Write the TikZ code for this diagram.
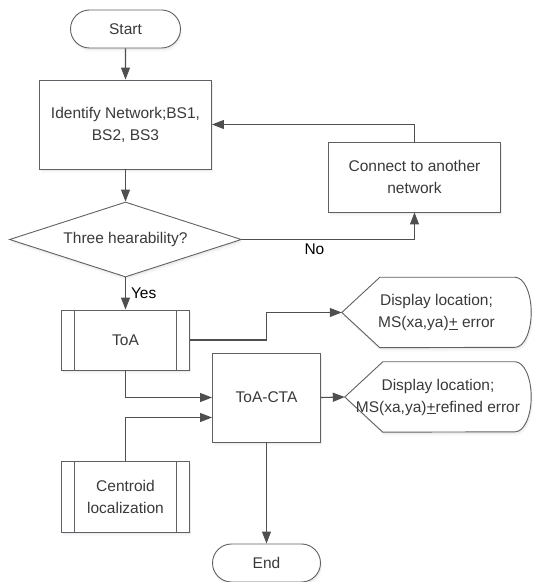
\documentclass[tikz,border=0pt]{standalone}
\usepackage{fontspec}
\setmainfont{Liberation Sans}
\usetikzlibrary{arrows.meta, shapes.geometric, shapes.misc, shadows, backgrounds}

\definecolor{ln}{HTML}{4F4F4F}
\definecolor{bd}{HTML}{5E6166}
\definecolor{txt}{HTML}{3A3A3A}

\begin{document}
\begin{tikzpicture}[x=1pt, y=1pt,
                every node/.style={font=\fontsize{15.5}{22}\selectfont, text=txt, align=center},
                soft shadow/.style={drop shadow={shadow xshift=1pt, shadow yshift=-2pt, opacity=.10},
                                    drop shadow={shadow xshift=1.5pt, shadow yshift=-4pt, opacity=.05}},
                box/.style={draw=bd, line width=0.9pt, fill=white, soft shadow},
                terminal/.style={box, rounded rectangle, minimum width=110pt, minimum height=38pt, inner sep=0pt},
                process/.style={box, rectangle, inner sep=0pt},
                decision/.style={box, diamond, aspect=3, minimum width=232pt, minimum height=75pt, inner sep=0pt},
                predef/.style={process, minimum width=128pt,
                        path picture={\draw[bd, line width=0.9pt]
                                ([xshift=13pt]path picture bounding box.north west) -- ([xshift=13pt]path picture bounding box.south west)
                                ([xshift=-13pt]path picture bounding box.north east) -- ([xshift=-13pt]path picture bounding box.south east);}},
                display/.style={inner sep=0pt, minimum height=70pt},
                lbl/.style={text=black},
                arr/.style={draw=ln, line width=1.1pt, -{Triangle[length=12pt, width=9pt]}}]
                \useasboundingbox (0,0) rectangle (536,582);

                \node[terminal] (start) at (125.5,553) {Start};
                \node[process, minimum width=172pt, minimum height=89pt] (ident) at (125.5,457.5) {Identify Network;BS1,\\BS2, BS3};
                \node[process, minimum width=172pt, minimum height=70pt] (conn) at (414.5,405) {Connect to another\\network};
                \node[decision] (dec) at (125.5,342.5) {Three hearability?};
                \node[predef, minimum height=60pt] (toa) at (125.5,242) {ToA};
                \node[display, minimum width=189pt] (disp1) at (436.5,269.5) {Display location;\\MS(xa,ya)\underline{+} error};
                \node[process, minimum width=108pt, minimum height=89pt] (cta) at (266.5,184.5) {ToA-CTA};
                \node[display, minimum width=186pt] (disp2) at (438,185) {Display location;\\MS(xa,ya)\underline{+}refined error};
                \node[predef, minimum height=71pt] (cent) at (125.5,85.5) {Centroid\\localization};
                \node[terminal, minimum width=108pt] (end) at (266.5,19) {End};

                % display shapes go behind their text
                \begin{scope}[on background layer]
                \foreach \d in {disp1,disp2}
                        \draw[box] (\d.west) -- ([xshift=38pt]\d.north west) -- ([xshift=-16pt]\d.north east)
                                arc[start angle=90, end angle=-90, x radius=16pt, y radius=35pt]
                                -- ([xshift=38pt]\d.south west) -- cycle;
                \end{scope}

                \draw[arr] (start) -- (ident);
                \draw[arr] (ident) -- (dec);
                \draw[arr] (dec.east) -| node[lbl, below, pos=0.21] {No} (conn.south);
                \draw[arr] (conn.north) |- (ident.east);
                \draw[arr] (dec.south) -- node[lbl, right, inner sep=5pt] {Yes} (toa.north);
                \draw[arr] (toa.east) -- (toa.east -| cta.north) |- (disp1.west);
                \draw[arr] (toa.south) |- (cta.west);
                \draw[arr] (cent.north) |- ([yshift=-20pt]cta.west);
                \draw[arr] (cta.east) -- (disp2.west);
                \draw[arr] (cta.south) -- (end.north);
\end{tikzpicture}
\end{document}
